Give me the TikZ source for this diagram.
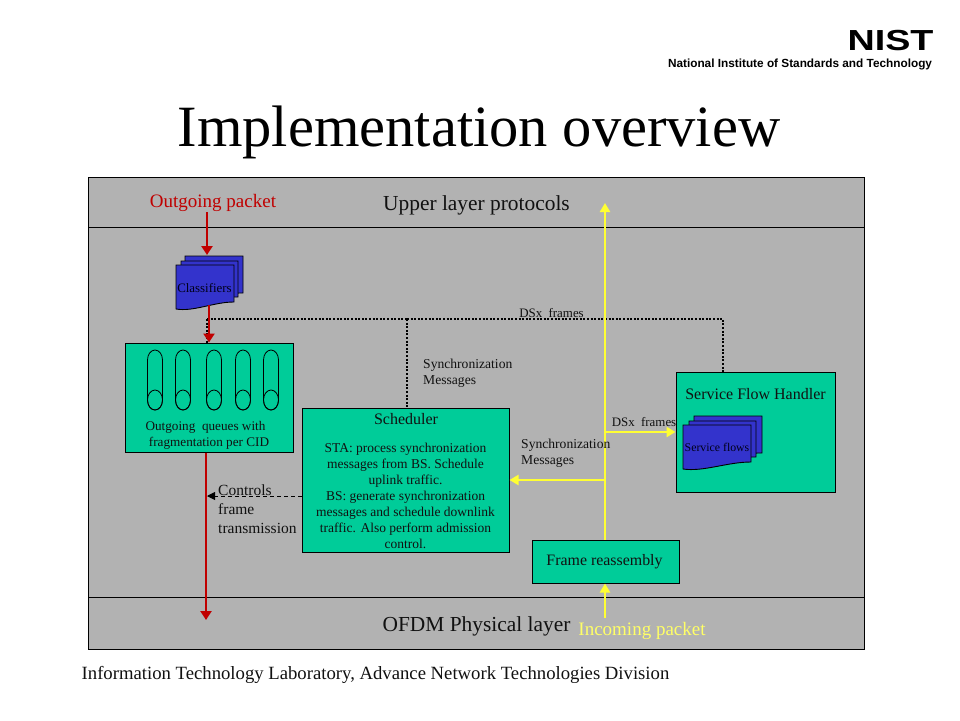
\documentclass[tikz,border=0pt]{standalone}
\usepackage{fontspec}
\setmainfont{Liberation Serif}
\newfontfamily\logofont{Liberation Sans}
\usetikzlibrary{arrows.meta}
\definecolor{panel}{HTML}{B2B2B2}
\definecolor{teal}{HTML}{00CC99}
\definecolor{docblue}{HTML}{3333CC}
\definecolor{redline}{HTML}{C00000}
\definecolor{yell}{HTML}{FFFF33}
\definecolor{txtyell}{HTML}{FFFF66}
\definecolor{txtgrey}{HTML}{111111}
\tikzset{
  lbl/.style={inner sep=0pt,text=txtgrey,font=\fontsize{#1}{#1}\selectfont},
  lbl/.default=12,
  boxg/.style={draw=black,line width=1pt,fill=teal,inner sep=0pt,minimum width=0pt},
  redarrow/.style={draw=redline,line width=2.4pt,-{Triangle[length=9pt,width=11pt]}},
  yelarrow/.style={draw=yell,line width=2.6pt,-{Triangle[length=9pt,width=10pt]}},
  dots/.style={draw=black,line width=2pt,dash pattern=on 2pt off 1.6pt},
  docsh/.style={draw=black,line width=.9pt,fill=docblue},
  capline/.style={draw=black,line width=.8pt}
}
\newcommand{\docshape}[5]{% x1,y1,x2,yr,yl
  \draw[docsh] (#1,#2) -- (#3,#2) -- (#3,#4) .. controls ({#3-(#3-#1)*.35},#4) and ({#1+(#3-#1)*.3},{#5+3}) .. (#1,#5) -- cycle;}
\newcommand{\capsule}[1]{%
  \draw[capline] ({#1-7.5},360) arc[start angle=180,end angle=360,x radius=7.5,y radius=10] -- ({#1+7.5},400) arc[start angle=0,end angle=180,x radius=7.5,y radius=10] -- cycle;
  \draw[capline] (#1,400) ellipse[x radius=7.5,y radius=10];}
\begin{document}
\begin{tikzpicture}[x=1pt,y=-1pt]
\useasboundingbox (0,0) rectangle (960,720);
\fill[white] (0,0) rectangle (960,720);
% logo
\node[inner sep=0pt,text=black,xscale=1.3,font=\logofont\bfseries\fontsize{29}{29}\selectfont] (nist) at (890.5,41) {NIST};
\node[inner sep=0pt,text=black,font=\logofont\bfseries\fontsize{11.8}{11.8}\selectfont] (org) at (800,64) {National Institute of Standards and Technology};
% title
\node[inner sep=0pt,text=black,font=\fontsize{58.5}{58.5}\selectfont] (title) at (479,132) {Implementation overview};
% panel
\draw[draw=black,line width=.8pt,fill=panel] (88,177) rectangle (864,649);
\coordinate (ul) at (88,227); \coordinate (ur) at (864,227);
\coordinate (ll) at (88,597); \coordinate (lr) at (864,597);
\draw[line width=.8pt] (ul) -- (ur);
\draw[line width=.8pt] (ll) -- (lr);
\node[lbl=21.4] (upper) at (476.5,205) {Upper layer protocols};
\node[lbl=21.4] (ofdm) at (476.5,626) {OFDM Physical layer};
\node[lbl=19,text=redline] (outp) at (213,203) {Outgoing packet};
\node[lbl=19,text=txtyell] (inp) at (642,631) {Incoming packet};
% boxes
\node[boxg,minimum width=168pt,minimum height=109pt] (queues) at (209,397.5) {};
\node[boxg,minimum width=207pt,minimum height=144pt] (sched) at (405.5,480) {};
\node[boxg,minimum width=159pt,minimum height=120pt] (sfh) at (755.5,432) {};
\node[boxg,minimum width=147pt,minimum height=43pt] (frame) at (605.5,561.5) {};
% queues
\capsule{155}\capsule{183}\capsule{214}\capsule{243}\capsule{271}
\node[lbl=13.2] (q1) at (205.5,427) {Outgoing\ \ queues with};
\node[lbl=13.2] (q2) at (209,443) {fragmentation per CID};
% classifiers
\docshape{185}{256}{243}{293}{293}
\docshape{181}{261}{238}{297}{297}
\docshape{176}{265}{234}{302}{309}
\node[lbl=12.9,text=black!90!blue] (classif) at (204.5,288) {Classifiers};
% service flows
\docshape{694}{416}{762}{453}{453}
\docshape{689}{421}{756}{457}{457}
\docshape{683}{425}{751}{462}{469}
\node[lbl=11.8,text=black!90!blue] (sflows) at (717,447) {Service flows};
\node[lbl=16] (sfhl) at (755.5,394) {Service Flow Handler};
% scheduler text
\node[lbl=16] (schedl) at (406,419) {Scheduler};
\node[inner sep=0pt,text=txtgrey,align=center,font=\fontsize{13.5}{16}\selectfont] (schedt) at (405.5,496) {STA: process synchronization\\messages from BS. Schedule\\uplink traffic.\\BS: generate synchronization\\messages and schedule downlink\\traffic. Also perform admission\\control.};
\node[lbl=15.9] (framel) at (604.5,562) {Frame reassembly};
% dotted
\coordinate (dL) at (207,319);
\coordinate (dM) at (407,319);
\coordinate (dR) at (723,319);
\draw[dots] (dL) -- (dM);
\draw[dots,line width=1.6pt] (dM) -- (dR) -- (sfh.north -| dR);
\draw[dots] (dM) -- (sched.north -| dM);
\draw[dots,line width=1.6pt] (dL) -- (queues.north -| dL);
% red connectors
\coordinate (rIn) at (207,212);
\coordinate (rClass) at (207,255);
\coordinate (rA) at (209,305);
\coordinate (rB) at (206,620);
\draw[redarrow] (rIn) -- (rClass);
\draw[redarrow] (rA) -- (queues.north -| rA);
\draw[redarrow] (queues.south -| rB) -- (rB);
% yellow
\coordinate (yTop) at (605,203);
\coordinate (yBot) at (605,618);
\coordinate (ySch) at (605,480);
\coordinate (yS) at (605,432);
\draw[yelarrow] (yBot) -- (frame.south -| yBot);
\draw[yelarrow] (frame.north -| yBot) -- (yTop);
\draw[yelarrow] (ySch) -- (sched.east |- ySch);
\draw[yelarrow] (yS) -- (sfh.west |- yS);
% dashed
\coordinate (dashEnd) at (207,496);
\draw[draw=black,line width=.9pt,dash pattern=on 4pt off 3pt,-{Triangle[length=8pt,width=8pt]}] (sched.west |- dashEnd) -- (dashEnd);
% labels
\node[lbl=12.9] (dsx1) at (551.5,313) {DSx\ \ frames};
\node[lbl=12.9] (dsx2) at (644,422) {DSx\ \ frames};
\node[inner sep=0pt,text=txtgrey,align=left,anchor=west,font=\fontsize{13.6}{16}\selectfont] (sync1) at (423,373) {Synchronization\\Messages};
\node[inner sep=0pt,text=txtgrey,align=left,anchor=west,font=\fontsize{13.6}{16}\selectfont] (sync2) at (521,453) {Synchronization\\Messages};
\node[inner sep=0pt,text=txtgrey,align=left,anchor=west,font=\fontsize{15.5}{19}\selectfont] (ctrl) at (218,509) {Controls\\frame\\transmission};
\node[inner sep=0pt,text=txtgrey,font=\fontsize{18.7}{18.7}\selectfont] (foot) at (375.5,675) {Information Technology Laboratory, Advance Network Technologies Division};
\end{tikzpicture}
\end{document}
